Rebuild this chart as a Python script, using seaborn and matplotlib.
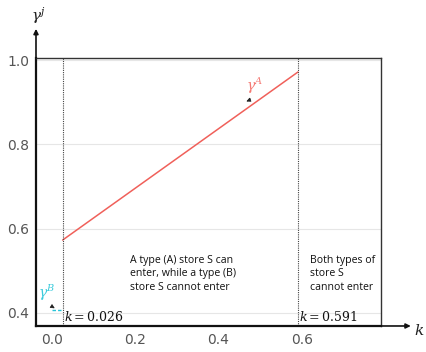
import matplotlib
matplotlib.use("Agg")
import matplotlib.pyplot as plt
import seaborn as sns
import pandas as pd

# Threshold values of k and the two gamma curves
k_thresholds = [0.026, 0.591]
k_a = [0.026, 0.591]
gamma_a = [0.573, 0.972]
k_b = [0.0, 0.026]
gamma_b = [0.408, 0.408]
x_ticks = [0.0, 0.2, 0.4, 0.6]
y_ticks = [0.4, 0.6, 0.8, 1.0]

sns.set_style("white")
plt.rcParams["font.family"] = ["DejaVu Sans"]
plt.rcParams["mathtext.fontset"] = "dejavuserif"

fig = plt.figure(figsize=(4.27, 3.52), dpi=100)
ax = fig.add_axes([0.0843, 0.0739, 0.8077, 0.7611])

df_a = pd.DataFrame({"k": k_a, "gamma": gamma_a})
df_b = pd.DataFrame({"k": k_b, "gamma": gamma_b})
sns.lineplot(data=df_a, x="k", y="gamma", ax=ax, color="#f0605a", lw=1.1)
sns.lineplot(data=df_b, x="k", y="gamma", ax=ax, color="#27c4d8", lw=1.0,
             linestyle=(0, (2.5, 1.5)))

for kv in k_thresholds:
    ax.axvline(kv, color="#444444", lw=0.8, linestyle=(0, (1, 1)))

ax.set_xlim(-0.038, 0.79)
ax.set_ylim(0.369, 1.005)
ax.set_xticks(x_ticks)
ax.set_yticks(y_ticks)
ax.set_xticklabels([f"{v:.1f}" for v in x_ticks])
ax.set_yticklabels([f"{v:.1f}" for v in y_ticks])
ax.yaxis.grid(True, color="#e6e6e6", lw=0.8)
ax.set_axisbelow(True)
ax.tick_params(axis="both", labelsize=10, colors="#555555", length=3,
               width=0.8, pad=2)
ax.tick_params(axis="x", length=0, pad=5)
ax.set_xlabel("")
ax.set_ylabel("")

for side in ["left", "bottom"]:
    ax.spines[side].set_color("#111111")
    ax.spines[side].set_linewidth(1.6)
for side in ["top", "right"]:
    ax.spines[side].set_color("#333333")
    ax.spines[side].set_linewidth(1.0)

# Axis arrows beyond the plotting box
ax.annotate("", xy=(0.0843, 0.918), xytext=(0.0843, 0.835),
            xycoords="figure fraction", textcoords="figure fraction",
            arrowprops=dict(arrowstyle="-|>", color="#111111", lw=1.2,
                            mutation_scale=7, shrinkA=0, shrinkB=0))
ax.annotate("", xy=(0.962, 0.0739), xytext=(0.892, 0.0739),
            xycoords="figure fraction", textcoords="figure fraction",
            arrowprops=dict(arrowstyle="-|>", color="#111111", lw=1.2,
                            mutation_scale=7, shrinkA=0, shrinkB=0))
fig.text(0.089, 0.955, r"$\gamma^j$", fontsize=11, ha="center", va="center",
         color="#222222")
fig.text(0.982, 0.062, r"$k$", fontsize=11, ha="center", va="center",
         color="#222222")

# Curve labels with small pointers
ax.annotate(r"$\gamma^A$", xy=(0.467, 0.902), xytext=(0.487, 0.94),
            fontsize=10, color="#f47a74", ha="center", va="center",
            arrowprops=dict(arrowstyle="-|>", color="#222222", lw=0.6,
                            mutation_scale=6,
                            connectionstyle="arc3,rad=-0.4",
                            shrinkA=4, shrinkB=0))
ax.annotate(r"$\gamma^B$", xy=(0.007, 0.411), xytext=(-0.012, 0.448),
            fontsize=10, color="#3ccbdc", ha="center", va="center",
            arrowprops=dict(arrowstyle="-|>", color="#222222", lw=0.6,
                            mutation_scale=6,
                            connectionstyle="arc3,rad=0.3",
                            shrinkA=4, shrinkB=0))

# Threshold labels
ax.text(0.029, 0.374, r"$k = 0.026$", fontsize=9, ha="left",
        va="bottom", color="#111111")
ax.text(0.594, 0.374, r"$k = 0.591$", fontsize=9, ha="left",
        va="bottom", color="#111111")

# Region descriptions
ax.text(0.187, 0.538,
        "A type (A) store S can\nenter, while a type (B)\nstore S cannot enter",
        fontsize=7.6, family="Open Sans", ha="left", va="top",
        color="#111111", linespacing=1.32)
ax.text(0.62, 0.538, "Both types of\nstore S\ncannot enter",
        fontsize=7.6, family="Open Sans", ha="left", va="top",
        color="#111111", linespacing=1.32)

fig.savefig("out.png", dpi=100)
